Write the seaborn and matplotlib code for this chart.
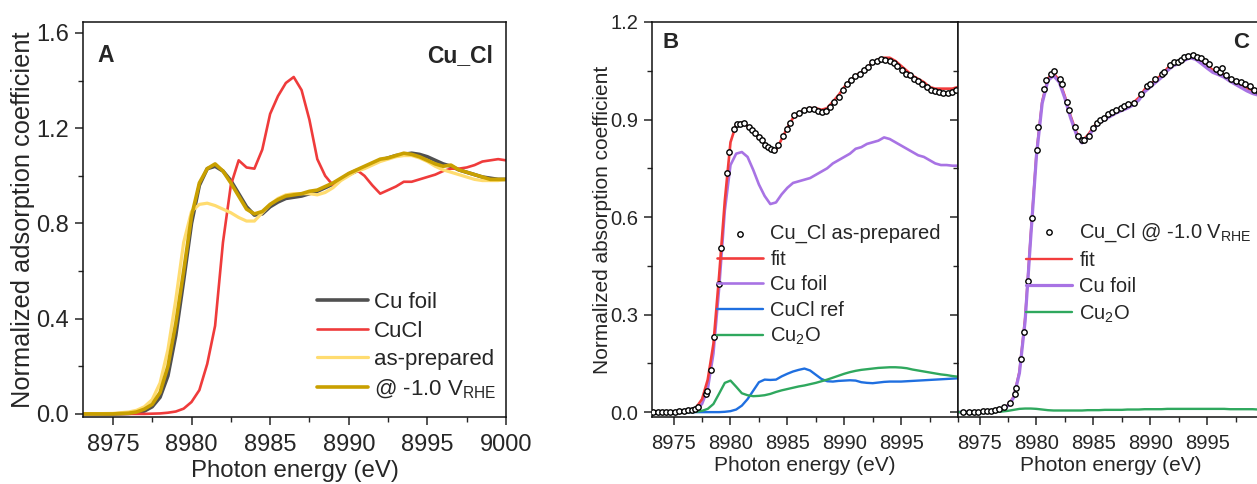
import numpy as np
import pandas as pd
import matplotlib
matplotlib.use("Agg")
import matplotlib.pyplot as plt
from matplotlib.ticker import MultipleLocator, FixedLocator
import seaborn as sns

# ---------------- data ----------------
E_GRID = [8973.0, 8975.0, 8976.0, 8976.5, 8977.0, 8977.5, 8978.0, 8978.5, 8979.0, 8979.5,
          8980.0, 8980.5, 8981.0, 8981.5, 8982.0, 8982.5, 8983.0, 8983.5, 8984.0, 8984.5,
          8985.0, 8985.5, 8986.0, 8986.5, 8987.0, 8987.5, 8988.0, 8988.5, 8989.0, 8989.5,
          8990.0, 8990.5, 8991.0, 8991.5, 8992.0, 8992.5, 8993.0, 8993.5, 8994.0, 8994.5,
          8995.0, 8995.5, 8996.0, 8996.5, 8997.0, 8997.5, 8998.0, 8998.5, 8999.0, 8999.5,
          9000.0]

# Panel A
A_CU_FOIL = [0, 0, 0.002, 0.005, 0.012, 0.03, 0.07, 0.16, 0.33, 0.56,
             0.8, 0.96, 1.03, 1.04, 1.02, 0.98, 0.925, 0.87, 0.835, 0.84,
             0.87, 0.89, 0.905, 0.91, 0.915, 0.925, 0.935, 0.95, 0.965, 0.985,
             1.005, 1.02, 1.035, 1.05, 1.065, 1.075, 1.085, 1.09, 1.095, 1.09,
             1.08, 1.065, 1.05, 1.04, 1.025, 1.015, 1.005, 0.995, 0.99, 0.985,
             0.985]
A_CUCL = [0, 0, 0, 0, 0, 0.001, 0.002, 0.005, 0.01, 0.022,
          0.05, 0.1, 0.21, 0.37, 0.72, 0.96, 1.065, 1.035, 1.03, 1.11,
          1.26, 1.335, 1.39, 1.415, 1.36, 1.235, 1.07, 1.0, 0.96, 0.985,
          1.01, 1.025, 1.0, 0.96, 0.925, 0.94, 0.955, 0.975, 0.975, 0.985,
          0.995, 1.005, 1.02, 1.03, 1.03, 1.035, 1.045, 1.06, 1.065, 1.07,
          1.065]
A_ASPREP = [0, 0.002, 0.008, 0.015, 0.03, 0.06, 0.13, 0.27, 0.48, 0.72,
            0.85, 0.88, 0.885, 0.875, 0.86, 0.845, 0.825, 0.81, 0.81, 0.845,
            0.88, 0.905, 0.92, 0.925, 0.925, 0.925, 0.92, 0.93, 0.95, 0.98,
            1.0, 1.02, 1.03, 1.045, 1.06, 1.07, 1.08, 1.085, 1.085, 1.075,
            1.06, 1.04, 1.025, 1.015, 1.005, 0.995, 0.985, 0.98, 0.98, 0.98,
            0.985]
A_M10V = [0, 0, 0.003, 0.008, 0.02, 0.04, 0.09, 0.2, 0.38, 0.6,
          0.83, 0.97, 1.03, 1.05, 1.02, 0.97, 0.915, 0.86, 0.84, 0.85,
          0.88, 0.9, 0.915, 0.92, 0.925, 0.935, 0.94, 0.955, 0.97, 0.99,
          1.01, 1.025, 1.04, 1.055, 1.07, 1.075, 1.085, 1.095, 1.09, 1.08,
          1.065, 1.05, 1.04, 1.045, 1.025, 1.015, 1.005, 0.995, 0.985, 0.985,
          0.985]

# Panel B (as-prepared LCF)
B_DATA_E = [8973.18, 8973.59, 8973.98, 8974.36, 8974.71, 8975.09, 8975.5, 8975.88, 8976.23, 8976.61,
            8976.9, 8977.17, 8977.84, 8977.9, 8978.28, 8978.58, 8978.95, 8979.19, 8979.69, 8979.89,
            8980.27, 8980.56, 8980.86, 8981.15, 8981.59, 8981.88, 8982.17, 8982.47, 8982.76, 8983.05,
            8983.26, 8983.55, 8983.84, 8984.22, 8984.6, 8984.96, 8985.19, 8985.6, 8985.98, 8986.42,
            8986.86, 8987.3, 8987.65, 8988.03, 8988.41, 8988.76, 8989.11, 8989.5, 8989.85, 8990.23,
            8990.58, 8990.96, 8991.4, 8991.78, 8992.13, 8992.48, 8992.86, 8993.24, 8993.6, 8993.98,
            8994.33, 8994.68, 8995.06, 8995.44, 8995.79, 8996.17, 8996.52, 8996.87, 8997.25, 8997.6,
            8997.99, 8998.34, 8998.72, 8999.1, 8999.45, 8999.83]
B_DATA = [0.0, 0.0, 0.0, 0.0, 0.0, 0.0, 0.002, 0.003, 0.005, 0.006,
          0.01, 0.016, 0.055, 0.065, 0.131, 0.23, 0.393, 0.506, 0.737, 0.8,
          0.872, 0.887, 0.886, 0.888, 0.877, 0.867, 0.859, 0.847, 0.836, 0.821,
          0.816, 0.808, 0.806, 0.821, 0.849, 0.872, 0.888, 0.913, 0.921, 0.929,
          0.931, 0.931, 0.926, 0.924, 0.926, 0.939, 0.954, 0.97, 0.99, 1.008,
          1.023, 1.033, 1.041, 1.051, 1.062, 1.077, 1.079, 1.087, 1.082, 1.079,
          1.074, 1.064, 1.051, 1.041, 1.036, 1.026, 1.019, 1.008, 1.0, 0.992,
          0.988, 0.985, 0.982, 0.982, 0.984, 0.99]
B_FIT = [0, 0, 0.002, 0.006, 0.015, 0.04, 0.1, 0.21, 0.42, 0.65,
         0.83, 0.885, 0.89, 0.88, 0.865, 0.845, 0.825, 0.805, 0.805, 0.84,
         0.875, 0.905, 0.92, 0.93, 0.935, 0.935, 0.93, 0.935, 0.955, 0.975,
         1.0, 1.02, 1.035, 1.045, 1.06, 1.075, 1.085, 1.09, 1.09, 1.08,
         1.065, 1.05, 1.035, 1.025, 1.015, 1.0, 0.995, 0.995, 0.995, 0.995,
         1.0]
B_CU_FOIL = [0, 0, 0.001, 0.003, 0.008, 0.025, 0.07, 0.18, 0.38, 0.62,
             0.76, 0.795, 0.8, 0.785, 0.745, 0.7, 0.665, 0.64, 0.645, 0.67,
             0.69, 0.705, 0.71, 0.715, 0.72, 0.73, 0.74, 0.75, 0.765, 0.775,
             0.785, 0.795, 0.81, 0.815, 0.825, 0.83, 0.835, 0.845, 0.84, 0.83,
             0.82, 0.81, 0.8, 0.79, 0.785, 0.775, 0.765, 0.76, 0.76, 0.758,
             0.758]
B_CUCL = [0, 0, 0, 0, 0, 0, 0, 0, 0, 0.001,
          0.003, 0.008, 0.02, 0.04, 0.066, 0.092, 0.1, 0.099, 0.1, 0.11,
          0.118, 0.125, 0.13, 0.134, 0.128, 0.115, 0.102, 0.095, 0.094, 0.096,
          0.097, 0.098, 0.097, 0.092, 0.09, 0.089, 0.091, 0.093, 0.094, 0.094,
          0.094, 0.095, 0.096, 0.097, 0.098, 0.099, 0.1, 0.101, 0.102, 0.103,
          0.104]
B_CU2O = [0, 0, 0, 0, 0.001, 0.004, 0.01, 0.025, 0.057, 0.09,
          0.097, 0.078, 0.058, 0.052, 0.049, 0.05, 0.052, 0.056, 0.062, 0.067,
          0.071, 0.075, 0.079, 0.082, 0.086, 0.09, 0.095, 0.1, 0.106, 0.112,
          0.118, 0.123, 0.127, 0.13, 0.132, 0.134, 0.136, 0.137, 0.138, 0.138,
          0.137, 0.135, 0.131, 0.128, 0.125, 0.122, 0.119, 0.116, 0.114, 0.111,
          0.109]

# Panel C (@ -1.0 V LCF)
C_DATA_E = [8973.5, 8974.1, 8974.47, 8974.89, 8975.26, 8975.65, 8976.0, 8976.35, 8976.73, 8977.17,
            8977.67, 8978.1, 8978.19, 8978.63, 8978.87, 8979.22, 8979.57, 8980.04, 8980.16, 8980.69,
            8980.86, 8981.27, 8981.56, 8982.09, 8982.2, 8982.67, 8982.9, 8983.38, 8983.61, 8983.96,
            8984.2, 8984.58, 8984.93, 8985.28, 8985.6, 8985.96, 8986.28, 8986.66, 8987.0, 8987.4,
            8987.68, 8988.07, 8988.57, 8989.2, 8989.73, 8989.97, 8990.38, 8991.05, 8991.2, 8991.73,
            8992.07, 8992.43, 8992.66, 8992.95, 8993.3, 8993.74, 8994.13, 8994.42, 8994.77, 8995.15,
            8995.74, 8996.09, 8996.33, 8996.62, 8997.06, 8997.5, 8997.94, 8998.37, 8998.75, 8999.16,
            8999.55]
C_DATA = [0.0, 0.0, 0.0, 0.001, 0.002, 0.003, 0.004, 0.006, 0.009, 0.015,
          0.027, 0.055, 0.073, 0.162, 0.247, 0.403, 0.597, 0.807, 0.877, 0.993,
          1.022, 1.039, 1.049, 1.026, 1.01, 0.954, 0.93, 0.877, 0.85, 0.838,
          0.836, 0.85, 0.875, 0.888, 0.898, 0.905, 0.916, 0.924, 0.929, 0.934,
          0.941, 0.949, 0.952, 0.978, 1.004, 1.008, 1.026, 1.039, 1.047, 1.067,
          1.076, 1.076, 1.083, 1.093, 1.095, 1.1, 1.093, 1.088, 1.081, 1.071,
          1.054, 1.047, 1.057, 1.037, 1.026, 1.018, 1.016, 1.008, 1.002, 0.99,
          0.985]
C_FIT = [0, 0, 0.002, 0.005, 0.011, 0.022, 0.048, 0.125, 0.29, 0.55,
         0.8, 0.957, 1.027, 1.042, 1.022, 0.972, 0.912, 0.862, 0.835, 0.852,
         0.877, 0.897, 0.907, 0.917, 0.927, 0.935, 0.942, 0.952, 0.968, 0.993,
         1.008, 1.023, 1.038, 1.058, 1.073, 1.08, 1.09, 1.098, 1.093, 1.08,
         1.066, 1.053, 1.046, 1.038, 1.026, 1.016, 1.006, 0.996, 0.988, 0.983,
         0.98]
C_CU_FOIL = [0, 0, 0.002, 0.004, 0.01, 0.02, 0.045, 0.12, 0.28, 0.54,
             0.79, 0.95, 1.02, 1.035, 1.015, 0.965, 0.905, 0.855, 0.828, 0.845,
             0.87, 0.89, 0.9, 0.91, 0.92, 0.928, 0.935, 0.945, 0.96, 0.985,
             1.0, 1.015, 1.03, 1.05, 1.065, 1.072, 1.082, 1.09, 1.085, 1.072,
             1.058, 1.045, 1.038, 1.03, 1.018, 1.008, 0.998, 0.988, 0.98, 0.975,
             0.972]
C_CU2O = [0, 0, 0, 0.001, 0.002, 0.004, 0.007, 0.01, 0.011, 0.011,
          0.01, 0.008, 0.006, 0.005, 0.005, 0.005, 0.005, 0.005, 0.005, 0.006,
          0.006, 0.006, 0.007, 0.007, 0.007, 0.007, 0.008, 0.008, 0.008, 0.009,
          0.009, 0.009, 0.009, 0.01, 0.01, 0.01, 0.01, 0.01, 0.01, 0.01,
          0.01, 0.01, 0.01, 0.01, 0.009, 0.009, 0.009, 0.009, 0.009, 0.008,
          0.008]

X_TICKS_A = [8975, 8980, 8985, 8990, 8995, 9000]
X_TICKS_BC = [8975, 8980, 8985, 8990, 8995]
Y_TICKS_A = [0.0, 0.4, 0.8, 1.2, 1.6]
Y_TICKS_B = [0.0, 0.3, 0.6, 0.9, 1.2]

# ---------------- style ----------------
sns.set_style("ticks")
plt.rcParams['font.family'] = ['Liberation Sans', 'DejaVu Sans']
plt.rcParams['mathtext.fontset'] = 'custom'
plt.rcParams['mathtext.rm'] = 'Liberation Sans'
plt.rcParams['mathtext.it'] = 'Liberation Sans:italic'
plt.rcParams['mathtext.bf'] = 'Liberation Sans:bold'
plt.rcParams['axes.linewidth'] = 1.1
plt.rcParams['axes.edgecolor'] = '#111111'

COL_GRAY = '#505050'
COL_RED_A = '#ef3b3b'
COL_YEL = '#ffdc70'
COL_GOLD = '#c9a000'
COL_FIT = '#f23c3c'
COL_PURP = '#a873e4'
COL_BLUE = '#1f6fe0'
COL_GREEN = '#2fa85e'

fig = plt.figure(figsize=(12.57, 4.84), dpi=100)
W, H = 1257.0, 484.0
axA = fig.add_axes([83 / W, 67 / H, 423 / W, 395 / H])
axB = fig.add_axes([652 / W, 67 / H, 306 / W, 395 / H])
axC = fig.add_axes([958 / W, 67 / H, 306 / W, 395 / H])

# ---------------- panel A ----------------
sns.lineplot(x=E_GRID, y=A_CU_FOIL, ax=axA, color=COL_GRAY, lw=2.6, label='Cu foil')
sns.lineplot(x=E_GRID, y=A_CUCL, ax=axA, color=COL_RED_A, lw=1.9, label='CuCl')
sns.lineplot(x=E_GRID, y=A_ASPREP, ax=axA, color=COL_YEL, lw=2.3, label='as-prepared')
sns.lineplot(x=E_GRID, y=A_M10V, ax=axA, color=COL_GOLD, lw=2.6, label=r'@ -1.0 V$_{\mathrm{RHE}}$')

axA.set_xlim(8973.1, 9000)
axA.set_ylim(-0.013, 1.646)
axA.xaxis.set_major_locator(FixedLocator(X_TICKS_A))
axA.xaxis.set_minor_locator(MultipleLocator(2.5))
axA.yaxis.set_major_locator(FixedLocator(Y_TICKS_A))
axA.yaxis.set_minor_locator(MultipleLocator(0.2))
axA.set_xticklabels([str(t) for t in X_TICKS_A])
axA.set_yticklabels([f'{t:.1f}' for t in Y_TICKS_A])
axA.tick_params(axis='both', which='major', direction='out', length=6, width=1.1,
                labelsize=17, pad=4)
axA.tick_params(axis='x', which='major', pad=6)
axA.tick_params(axis='both', which='minor', direction='out', length=3.5, width=1.0)
axA.set_xlabel('Photon energy (eV)', fontsize=17.3, labelpad=3)
axA.set_ylabel('Normalized adsorption coefficient', fontsize=18.3, labelpad=1)
axA.text(0.033, 0.916, 'A', transform=axA.transAxes, fontsize=16.5, fontweight='bold',
         ha='left', va='center')
axA.text(0.969, 0.916, 'Cu_Cl', transform=axA.transAxes, fontsize=16.5, fontweight='bold',
         ha='right', va='center')
h, l = axA.get_legend_handles_labels()
axA.legend(h, l, loc='upper left', bbox_to_anchor=((317 - 83) / 423, (417 - 292) / 395),
           frameon=False, fontsize=16, handlelength=2.3, handletextpad=0.25,
           labelspacing=0.34, borderpad=0, borderaxespad=0)

# ---------------- panel B ----------------
sns.lineplot(x=E_GRID, y=B_CU_FOIL, ax=axB, color=COL_PURP, lw=1.9, label='Cu foil')
sns.lineplot(x=E_GRID, y=B_FIT, ax=axB, color=COL_FIT, lw=1.9, label='fit')
sns.lineplot(x=E_GRID, y=B_CUCL, ax=axB, color=COL_BLUE, lw=1.7, label='CuCl ref')
sns.lineplot(x=E_GRID, y=B_CU2O, ax=axB, color=COL_GREEN, lw=1.7, label=r'Cu$_2$O')
sns.scatterplot(x=B_DATA_E, y=B_DATA, ax=axB, marker='o', s=15, color='white',
                edgecolor='black', linewidth=1.0, zorder=5, label='Cu_Cl as-prepared')

# ---------------- panel C ----------------
sns.lineplot(x=E_GRID, y=C_FIT, ax=axC, color=COL_FIT, lw=1.7, label='fit')
sns.lineplot(x=E_GRID, y=C_CU_FOIL, ax=axC, color=COL_PURP, lw=2.3, label='Cu foil')
sns.lineplot(x=E_GRID, y=C_CU2O, ax=axC, color=COL_GREEN, lw=1.7, label=r'Cu$_2$O')
sns.scatterplot(x=C_DATA_E, y=C_DATA, ax=axC, marker='o', s=15, color='white',
                edgecolor='black', linewidth=1.0, zorder=5, label=r'Cu_Cl @ -1.0 V$_{\mathrm{RHE}}$')

for ax in (axB, axC):
    ax.set_xlim(8973.1, 9000)
    ax.set_ylim(-0.015, 1.2)
    ax.xaxis.set_major_locator(FixedLocator(X_TICKS_BC))
    ax.xaxis.set_minor_locator(MultipleLocator(2.5))
    ax.yaxis.set_major_locator(FixedLocator(Y_TICKS_B))
    ax.yaxis.set_minor_locator(MultipleLocator(0.15))
    ax.set_xticklabels([str(t) for t in X_TICKS_BC])
    ax.tick_params(axis='both', which='major', direction='out', length=6, width=1.1,
                   labelsize=14.5, pad=4)
    ax.tick_params(axis='x', which='major', pad=6.5)
    ax.tick_params(axis='both', which='minor', direction='out', length=3.5, width=1.0)
    ax.set_xlabel('Photon energy (eV)', fontsize=15, labelpad=2)

axB.set_yticklabels([f'{t:.1f}' for t in Y_TICKS_B])
axB.set_ylabel('Normalized absorption coefficient', fontsize=15, labelpad=-1)
axC.tick_params(axis='y', labelleft=False)
axC.set_ylabel('')

axB.text(0.033, 0.947, 'B', transform=axB.transAxes, fontsize=16, fontweight='bold',
         ha='left', va='center')
axC.text(0.899, 0.947, 'C', transform=axC.transAxes, fontsize=16, fontweight='bold',
         ha='left', va='center')

h, l = axB.get_legend_handles_labels()
d = dict(zip(l, h))
orderB = ['Cu_Cl as-prepared', 'fit', 'Cu foil', 'CuCl ref', r'Cu$_2$O']
axB.legend([d[k] for k in orderB], orderB, loc='upper left',
           bbox_to_anchor=((717 - 652) / 306, (417 - 224) / 395),
           frameon=False, fontsize=14.5, handlelength=2.3, handletextpad=0.35,
           labelspacing=0.32, borderpad=0, borderaxespad=0)

h, l = axC.get_legend_handles_labels()
d = dict(zip(l, h))
orderC = [r'Cu_Cl @ -1.0 V$_{\mathrm{RHE}}$', 'fit', 'Cu foil', r'Cu$_2$O']
axC.legend([d[k] for k in orderC], orderC, loc='upper left',
           bbox_to_anchor=((1026 - 958) / 306, (417 - 221) / 395),
           frameon=False, fontsize=14.5, handlelength=2.3, handletextpad=0.35,
           labelspacing=0.36, borderpad=0, borderaxespad=0)

fig.savefig('out.png', dpi=100)
